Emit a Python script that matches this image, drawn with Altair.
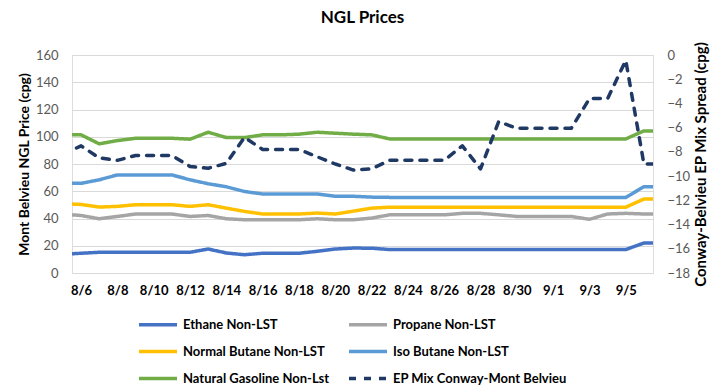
import altair as alt
import pandas as pd

dates = ["8/5", "8/6", "8/7", "8/8", "8/9", "8/10", "8/11", "8/12", "8/13", "8/14",
         "8/15", "8/16", "8/17", "8/18", "8/19", "8/20", "8/21", "8/22", "8/23", "8/24",
         "8/25", "8/26", "8/27", "8/28", "8/29", "8/30", "8/31", "9/1", "9/2", "9/3",
         "9/4", "9/5", "9/6", "9/7"]

series_names = ["Ethane Non-LST", "Propane Non-LST", "Normal Butane Non-LST",
                "Iso Butane Non-LST", "Natural Gasoline Non-Lst", "EP Mix Conway-Mont Belvieu"]
series_colors = ["#4472C4", "#A5A5A5", "#FFC000", "#5B9BD5", "#70AD47", "#203864"]

ethane = [13.7, 14.5, 15.2, 15.2, 15.2, 15.2, 15.2, 15.2, 17.6, 14.7,
          13.4, 14.5, 14.5, 14.5, 15.9, 17.6, 18.3, 18.2, 17.2, 17.2,
          17.2, 17.2, 17.2, 17.2, 17.2, 17.2, 17.2, 17.2, 17.2, 17.2,
          17.2, 17.2, 22.0, 22.0]
propane = [43.2, 42.2, 39.8, 41.5, 43.3, 43.3, 43.3, 41.5, 42.2, 39.8,
           39.1, 39.1, 39.1, 39.1, 39.8, 39.1, 39.1, 40.3, 42.7, 42.7,
           42.7, 42.7, 43.8, 43.8, 42.7, 41.5, 41.5, 41.5, 41.5, 39.4,
           43.3, 43.8, 43.3, 43.3]
normal_butane = [50.9, 50.3, 48.4, 48.9, 50.1, 50.1, 50.1, 48.9, 50.1, 47.6,
                 45.2, 43.3, 43.3, 43.3, 44.0, 43.3, 45.4, 47.6, 48.3, 48.3,
                 48.3, 48.3, 48.3, 48.3, 48.3, 48.3, 48.3, 48.3, 48.3, 48.3,
                 48.3, 48.3, 54.3, 54.3]
iso_butane = [65.8, 65.8, 68.4, 72.0, 72.0, 72.0, 72.0, 68.4, 65.5, 63.3,
              59.8, 58.0, 58.0, 58.0, 58.0, 56.3, 56.3, 55.7, 55.5, 55.5,
              55.5, 55.5, 55.5, 55.5, 55.5, 55.5, 55.5, 55.5, 55.5, 55.5,
              55.5, 55.5, 63.3, 63.3]
natural_gasoline = [101.4, 101.4, 94.8, 97.2, 98.9, 98.9, 98.9, 98.2, 103.3, 99.4,
                    99.4, 101.4, 101.4, 101.9, 103.3, 102.6, 101.9, 101.4, 98.4, 98.4,
                    98.4, 98.4, 98.4, 98.4, 98.4, 98.4, 98.4, 98.4, 98.4, 98.4,
                    98.4, 98.4, 104.3, 104.3]
ep_mix_spread = [-8.2, -7.5, -8.5, -8.7, -8.3, -8.3, -8.3, -9.2, -9.35, -8.95,
                 -6.8, -7.8, -7.8, -7.8, -8.4, -9.0, -9.5, -9.4, -8.7, -8.7,
                 -8.7, -8.7, -7.5, -9.4, -5.5, -6.05, -6.05, -6.05, -6.05, -3.6,
                 -3.6, -0.45, -9.0, -9.0]

left_ticks = [0, 20, 40, 60, 80, 100, 120, 140, 160]
right_ticks = [0, -2, -4, -6, -8, -10, -12, -14, -16, -18]

price_series = [ethane, propane, normal_butane, iso_butane, natural_gasoline]
rows = []
for name, vals in zip(series_names[:5], price_series):
    for i, (d, v) in enumerate(zip(dates, vals)):
        rows.append({"day": i - 1, "date": d, "series": name, "value": v})
prices = pd.DataFrame(rows)
spread = pd.DataFrame({"day": [i - 1 for i in range(len(dates))], "date": dates,
                       "series": series_names[5], "value": ep_mix_spread})

label_days = [i - 1 for i in range(1, len(dates) - 2, 2)]
label_js = "[" + ",".join("'" + d + "'" for d in dates) + "][datum.value + 1]"

FONT = "Lato"
dash_range = [[1, 0]] * 5 + [[7, 8]]

legend = alt.Legend(
    title=None, orient="none", legendX=65, legendY=258, columns=2, direction="horizontal",
    symbolType="M-1,0h4", symbolSize=361, symbolStrokeWidth=3.5,
    labelOffset=23, labelFont=FONT, labelFontSize=13, labelFontWeight="bold",
    labelColor="#000000", labelLimit=0, rowPadding=8, columnPadding=12, padding=0,
)

x_enc = alt.X("day:Q", scale=alt.Scale(domain=[-0.5, 31.5], nice=False, zero=False),
              axis=alt.Axis(values=label_days, labelExpr=label_js, title=None, grid=False,
                            ticks=False, domain=False, labelFont=FONT, labelFontSize=13,
                            labelFontWeight="bold", labelColor="#000000", labelPadding=11))
color_enc = alt.Color("series:N", scale=alt.Scale(domain=series_names, range=series_colors),
                      legend=legend)
dash_enc = alt.StrokeDash("series:N", scale=alt.Scale(domain=series_names, range=dash_range),
                          legend=legend)

left = alt.Chart(prices).mark_line(clip=True, strokeWidth=3.5, strokeJoin="round").encode(
    x=x_enc,
    y=alt.Y("value:Q", scale=alt.Scale(domain=[0, 160], nice=False),
            axis=alt.Axis(values=left_ticks, title="Mont Belvieu NGL Price (cpg)",
                          titleFont=FONT, titleFontSize=14, titleFontWeight="bold",
                          titleColor="#000000", titlePadding=4, labelFont=FONT,
                          labelFontSize=13, labelColor="#595959", labelPadding=14,
                          ticks=False, domain=False, grid=True, gridColor="#D9D9D9")),
    color=color_enc,
    strokeDash=dash_enc,
    order="day:Q",
)

right = alt.Chart(spread).mark_line(clip=True, strokeWidth=3.5, strokeJoin="round",
                                    strokeCap="round").encode(
    x=x_enc,
    y=alt.Y("value:Q", scale=alt.Scale(domain=[-18, 0], nice=False),
            axis=alt.Axis(orient="right", values=right_ticks,
                          title="Conway-Belvieu EP Mix Spread (cpg)", titleAngle=270,
                          titleFont=FONT, titleFontSize=15, titleFontWeight="bold",
                          titleColor="#000000", titlePadding=19, labelFont=FONT,
                          labelFontSize=13, labelColor="#595959", labelPadding=14,
                          ticks=False, domain=False, grid=False)),
    color=color_enc,
    strokeDash=dash_enc,
    order="day:Q",
)

chart = alt.layer(left, right).resolve_scale(y="independent").properties(
    width=581, height=218,
    title=alt.TitleParams("NGL Prices", font=FONT, fontSize=17, fontWeight="bold",
                          color="#000000", anchor="middle", offset=14),
    autosize=alt.AutoSizeParams(type="none"),
    padding={"left": 64, "top": 47, "right": 64, "bottom": 113},
).configure_view(stroke=None).configure(font=FONT)

chart.save("out.html", embed_options={"renderer": "svg", "actions": False})
